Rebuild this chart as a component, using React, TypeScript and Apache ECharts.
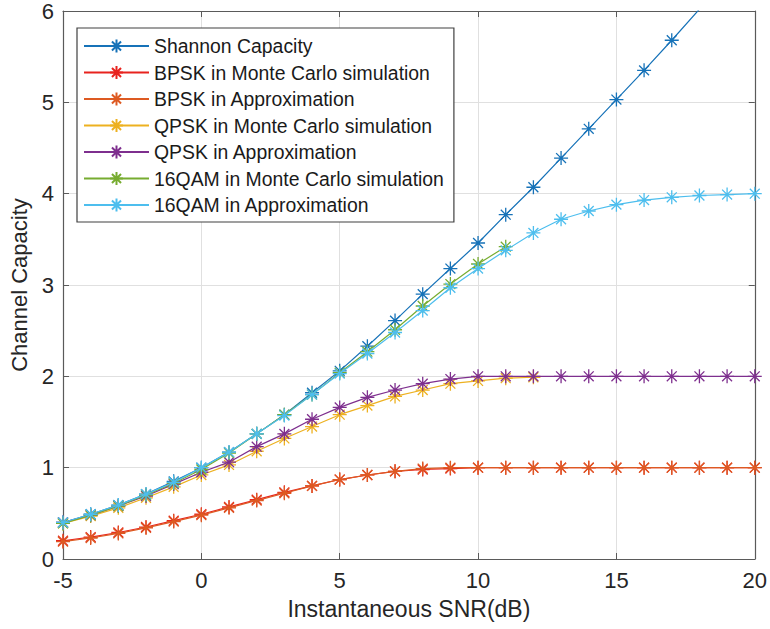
import React, { useEffect, useRef } from "react";
import * as echarts from "echarts";

const snr = [-5, -4, -3, -2, -1, 0, 1, 2, 3, 4, 5, 6, 7, 8, 9, 10, 11, 12, 13, 14, 15, 16, 17, 18, 19, 20];

const shannon = [0.40, 0.49, 0.59, 0.71, 0.85, 1.00, 1.17, 1.37, 1.58, 1.82, 2.06, 2.33, 2.61, 2.90, 3.18, 3.46, 3.77, 4.07, 4.39, 4.71, 5.03, 5.35, 5.68, 6.02, 6.33, 6.66];
const bpskMC = [0.20, 0.24, 0.29, 0.35, 0.42, 0.49, 0.57, 0.65, 0.73, 0.80, 0.87, 0.92, 0.96, 0.98, 0.99, 1.00, 1.00, 1.00, 1.00, 1.00, 1.00, 1.00, 1.00, 1.00, 1.00, 1.00];
const bpskApprox = [0.19, 0.23, 0.28, 0.34, 0.41, 0.48, 0.56, 0.64, 0.72, 0.80, 0.87, 0.92, 0.96, 0.99, 1.00, 1.00, 1.00, 1.00, 1.00, 1.00, 1.00, 1.00, 1.00, 1.00, 1.00, 1.00];
const qpskMC = [0.39, 0.47, 0.56, 0.67, 0.79, 0.92, 1.03, 1.18, 1.32, 1.45, 1.58, 1.68, 1.78, 1.85, 1.92, 1.95, 1.98, 1.99];
const qpskApprox = [0.40, 0.48, 0.58, 0.69, 0.82, 0.95, 1.06, 1.23, 1.37, 1.53, 1.66, 1.77, 1.85, 1.92, 1.97, 2.00, 2.00, 2.00, 2.00, 2.00, 2.00, 2.00, 2.00, 2.00, 2.00, 2.00];
const qam16MC = [0.39, 0.48, 0.58, 0.70, 0.83, 0.98, 1.16, 1.37, 1.58, 1.80, 2.04, 2.27, 2.51, 2.77, 3.01, 3.23, 3.42];
const qam16Approx = [0.40, 0.49, 0.59, 0.71, 0.84, 1.00, 1.17, 1.37, 1.57, 1.80, 2.03, 2.25, 2.48, 2.72, 2.97, 3.18, 3.38, 3.57, 3.72, 3.81, 3.88, 3.93, 3.96, 3.98, 3.99, 4.00];

const seriesNames = [
  "Shannon Capacity",
  "BPSK in Monte Carlo simulation",
  "BPSK in Approximation",
  "QPSK in Monte Carlo simulation",
  "QPSK in Approximation",
  "16QAM in Monte Carlo simulation",
  "16QAM in Approximation",
];
const seriesValues = [shannon, bpskMC, bpskApprox, qpskMC, qpskApprox, qam16MC, qam16Approx];
const seriesColors = ["#1672B8", "#E8231E", "#DD5A22", "#EDB120", "#7E2F8E", "#77AC30", "#4DBEEE"];

const yTicks = [0, 1, 2, 3, 4, 5, 6];

const STAR = "path://M0 -10 L0 10 M-10 0 L10 0 M-7.07 -7.07 L7.07 7.07 M-7.07 7.07 L7.07 -7.07";
const FONT = "'Liberation Sans', Arial, Helvetica, sans-serif";

export default function App() {
  const ref = useRef<HTMLDivElement>(null);
  useEffect(() => {
    if (!ref.current) return;
    const chart = echarts.init(ref.current, undefined, { renderer: "svg" });
    const axisLineColor = "#5a5a5a";
    const gridColor = "#e0e0e0";
    const baseX = {
      type: "value" as const,
      min: -5,
      max: 20,
      interval: 5,
      axisLine: { show: true, onZero: false, lineStyle: { color: axisLineColor, width: 1.2 } },
      axisTick: { show: true, inside: true, length: 6, lineStyle: { color: axisLineColor } },
    };
    const baseY = {
      type: "value" as const,
      min: yTicks[0],
      max: yTicks[yTicks.length - 1],
      interval: 1,
      axisLine: { show: true, onZero: false, lineStyle: { color: axisLineColor, width: 1.2 } },
      axisTick: { show: true, inside: true, length: 6, lineStyle: { color: axisLineColor } },
    };
    chart.setOption({
      animation: false,
      backgroundColor: "#ffffff",
      textStyle: { fontFamily: FONT },
      grid: { left: 63, right: 12, top: 9, bottom: 70, containLabel: false },
      legend: {
        orient: "vertical",
        left: 77,
        top: 28,
        data: seriesNames,
        itemWidth: 65,
        itemHeight: 16,
        itemGap: 4.5,
        padding: [7, 10, 6, 6],
        backgroundColor: "#ffffff",
        borderColor: "#404040",
        borderWidth: 1.2,
        borderRadius: 0,
        selectedMode: false,
        textStyle: { fontFamily: FONT, fontSize: 19.4, color: "#1a1a1a", lineHeight: 22, padding: [0, 0, 0, 0] },
      },
      xAxis: [
        {
          ...baseX,
          position: "bottom",
          name: "Instantaneous SNR(dB)",
          nameLocation: "middle",
          nameGap: 38,
          nameTextStyle: { fontFamily: FONT, fontSize: 23, color: "#262626" },
          axisLabel: { fontFamily: FONT, fontSize: 22, color: "#262626", margin: 10 },
          splitLine: { show: true, lineStyle: { color: gridColor, width: 1 } },
        },
        {
          ...baseX,
          position: "top",
          axisLabel: { show: false },
          splitLine: { show: false },
        },
      ],
      yAxis: [
        {
          ...baseY,
          position: "left",
          name: "Channel Capacity",
          nameLocation: "middle",
          nameGap: 31,
          nameTextStyle: { fontFamily: FONT, fontSize: 22, color: "#262626" },
          axisLabel: { fontFamily: FONT, fontSize: 22, color: "#262626", margin: 9 },
          splitLine: { show: true, lineStyle: { color: gridColor, width: 1 } },
        },
        {
          ...baseY,
          position: "right",
          axisLabel: { show: false },
          splitLine: { show: false },
        },
      ],
      series: seriesNames.map((name, i) => ({
        name,
        type: "line",
        xAxisIndex: 0,
        yAxisIndex: 0,
        data: seriesValues[i].map((v, j) => [snr[j], v]),
        symbol: STAR,
        symbolSize: 14,
        showSymbol: true,
        clip: true,
        color: seriesColors[i],
        lineStyle: { color: seriesColors[i], width: 1.2 },
        itemStyle: { color: seriesColors[i], borderColor: seriesColors[i], borderWidth: 1.3 },
        emphasis: { disabled: true },
        z: 2 + i,
      })),
    });
    return () => chart.dispose();
  }, []);
  return (
    <div
      ref={ref}
      style={{ position: "fixed", left: 0, top: 0, width: 770, height: 629, background: "#fff" }}
    />
  );
}
